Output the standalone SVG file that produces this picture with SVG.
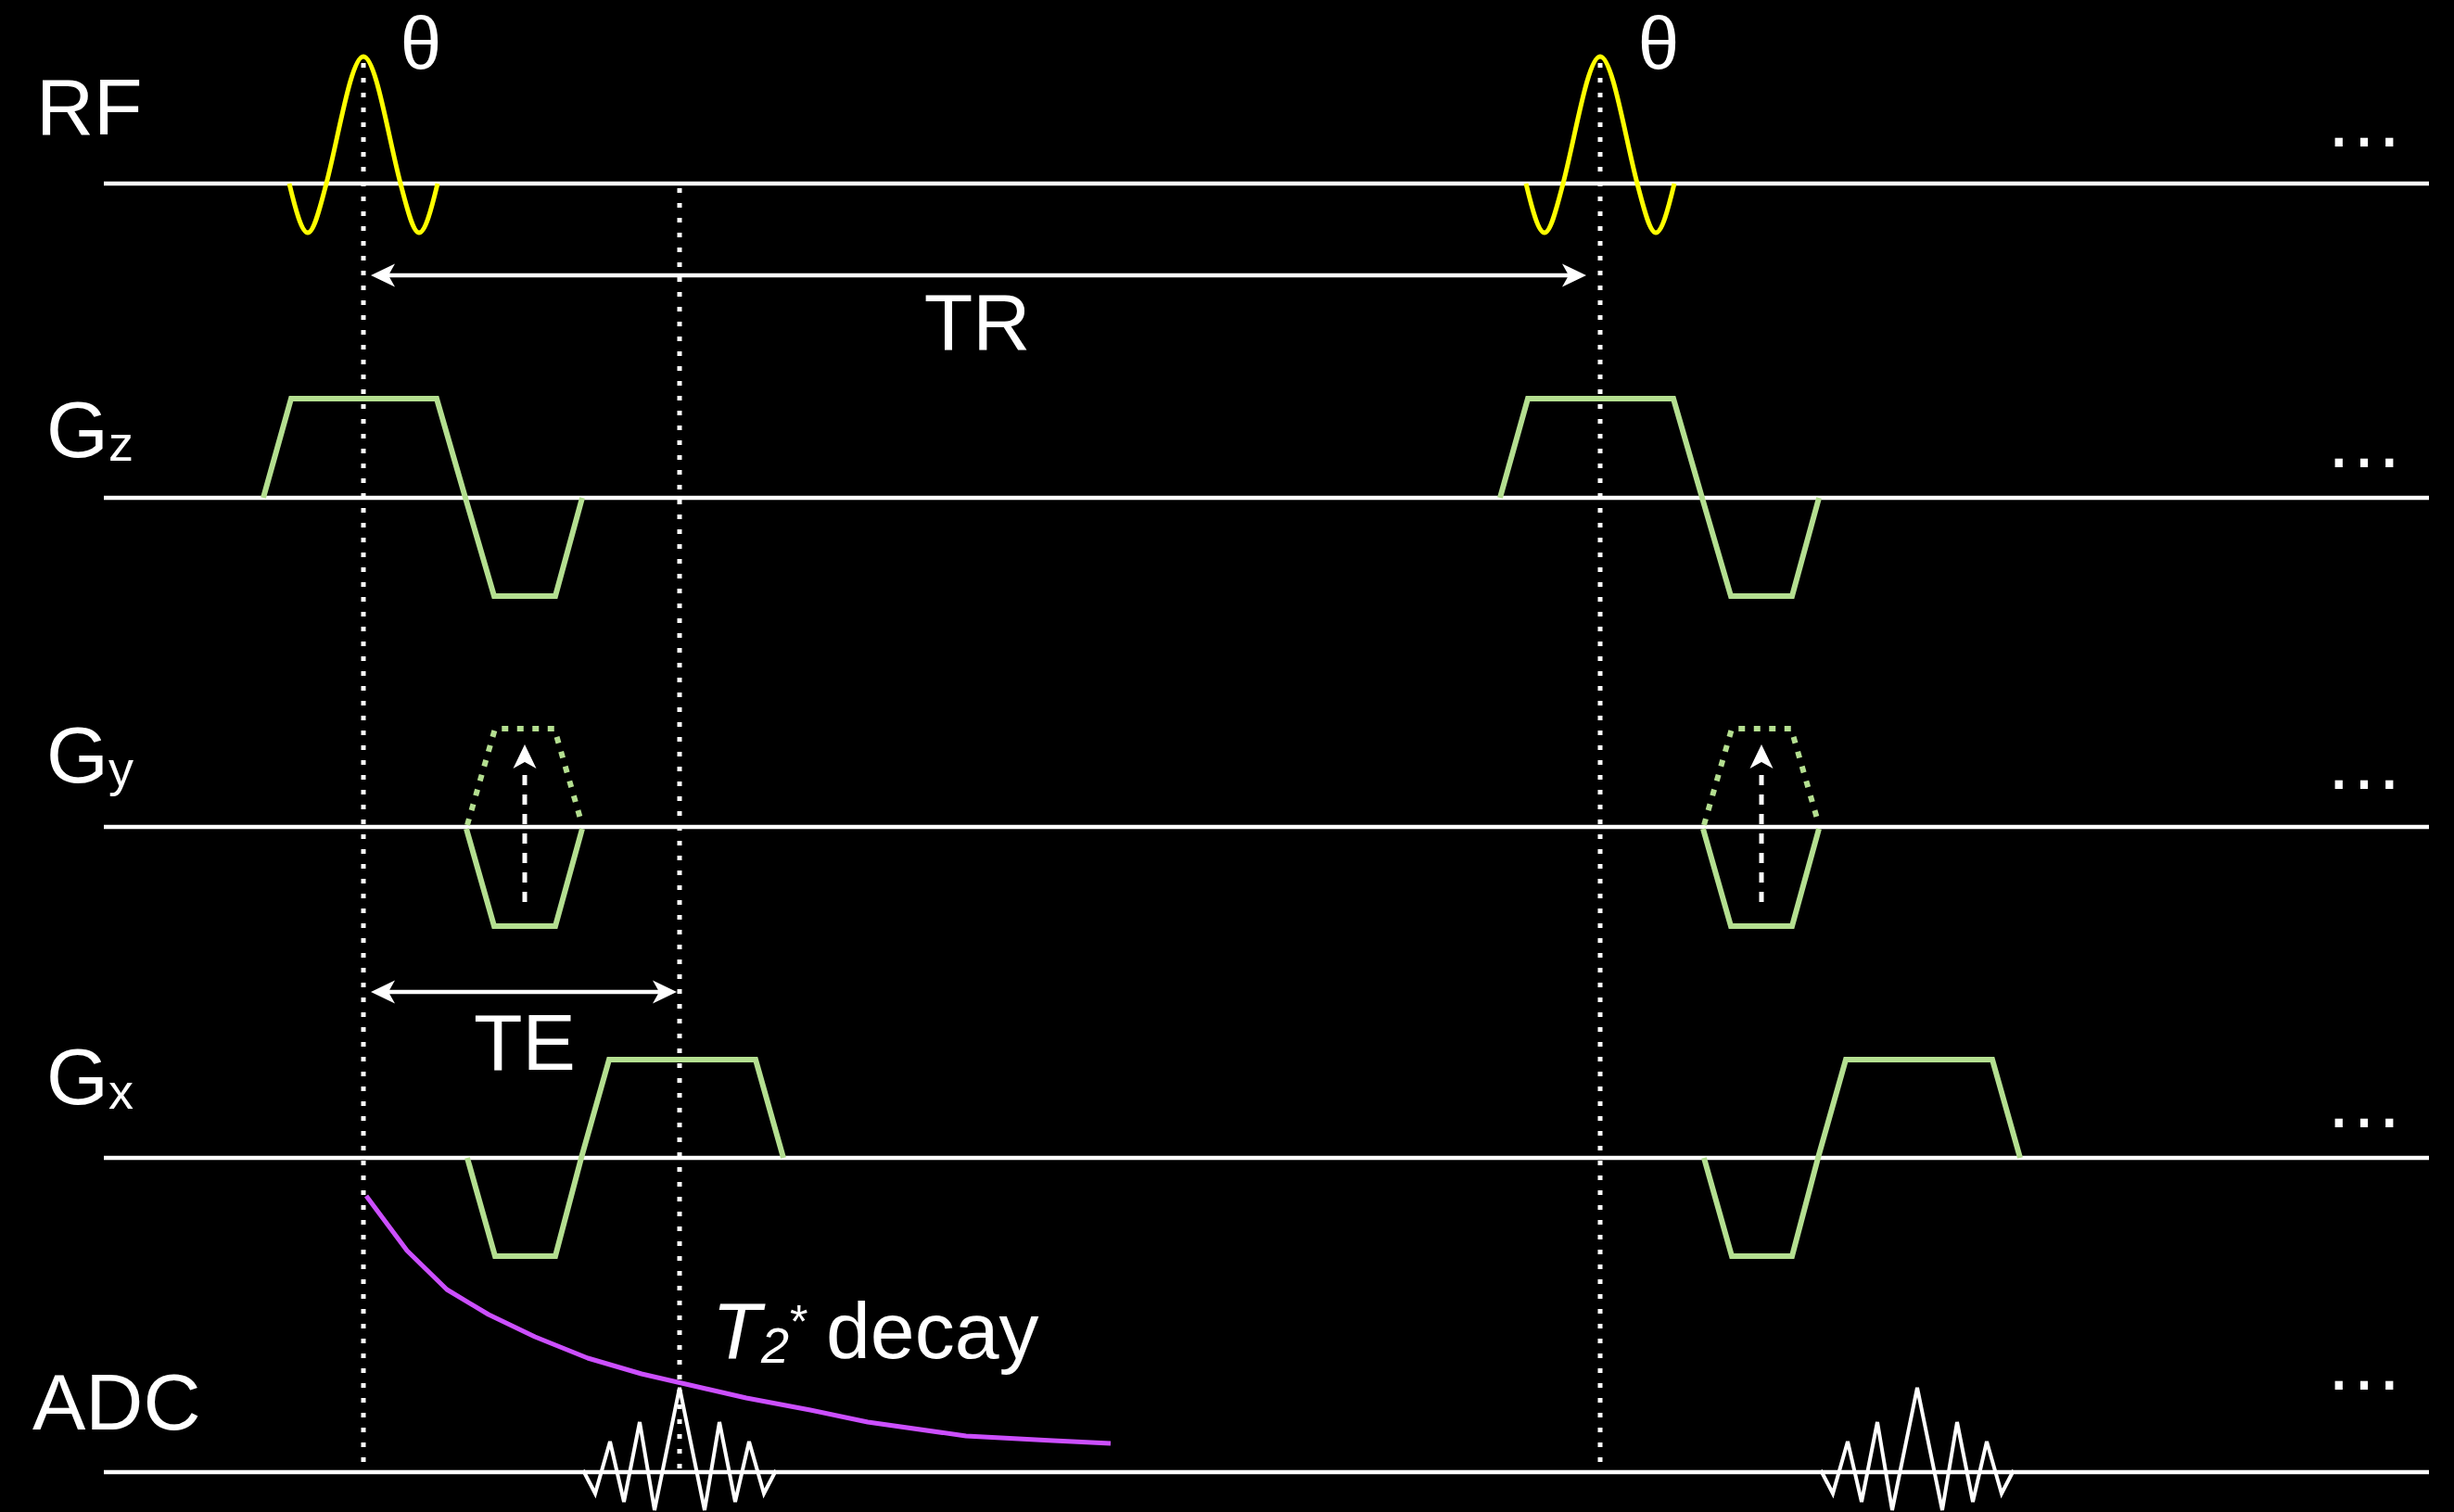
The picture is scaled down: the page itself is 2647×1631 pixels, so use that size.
<svg xmlns="http://www.w3.org/2000/svg" width="2647" height="1631" viewBox="0 0 2647 1631">
<style>
.bg{fill:#000}
.axis{stroke:#fff;stroke-width:4.5;fill:none}
.lbl{fill:#fff;font-family:"Liberation Sans",Arial,sans-serif;font-size:86px}
.sub{font-size:54px}
.theta{font-size:80px;text-anchor:middle}
.rf{stroke:#ffff00;stroke-width:5;fill:none}
.grad{stroke:#b4df90;stroke-width:6;fill:none;stroke-linejoin:miter}
.graddot{stroke:#b4df90;stroke-width:6;fill:none;stroke-dasharray:7 9.5}
.vdot{stroke:#fff;stroke-width:5;fill:none;stroke-dasharray:5 11}
.dim{stroke:#fff;stroke-width:4.5;fill:none}
.pe{stroke:#fff;stroke-width:5;fill:none;stroke-dasharray:11 10}
.sig{stroke:#fff;stroke-width:4;fill:none;stroke-linejoin:miter}
.decay{stroke:#cc4fff;stroke-width:5;fill:none;stroke-linejoin:round}
.dots{fill:#fff;font-family:"Liberation Sans",Arial,sans-serif;font-size:86px;text-anchor:middle}
</style>
<defs>
<marker id="arr" markerUnits="userSpaceOnUse" viewBox="0 -13 26 26" markerWidth="26" markerHeight="26" refX="16" refY="0" orient="auto-start-reverse">
<path d="M26,0 L0,-12.5 L7,0 L0,12.5 Z" fill="#fff"/>
</marker>
<marker id="arrUp" markerUnits="userSpaceOnUse" viewBox="0 -13 26 26" markerWidth="26" markerHeight="26" refX="-7" refY="0" orient="auto">
<path d="M26,0 L0,-12.5 L7,0 L0,12.5 Z" fill="#fff"/>
</marker>
<path id="sinc" d="M-80,0 C-73.33,27.7 -66.67,53 -60,53 C-53.33,53 -46.67,25.3 -40,0 C-26.67,-50.7 -13.33,-137 0,-137 C13.33,-137 26.67,-50.7 40,0 C46.67,25.3 53.33,53 60,53 C66.67,53 73.33,27.7 80,0"/>
</defs>
<rect class="bg" x="0" y="0" width="2647" height="1631"/>

<g id="axes">
<line class="axis" x1="112" y1="198" x2="2620" y2="198"/>
<line class="axis" x1="112" y1="537" x2="2620" y2="537"/>
<line class="axis" x1="112" y1="892" x2="2620" y2="892"/>
<line class="axis" x1="112" y1="1249" x2="2620" y2="1249"/>
<line class="axis" x1="112" y1="1588" x2="2620" y2="1588"/>
</g>

<g id="labels">
<text class="lbl" x="39" y="145">RF</text>
<text class="lbl" x="50" y="493">G<tspan class="sub" dy="4">z</tspan></text>
<text class="lbl" x="50" y="844">G<tspan class="sub" dy="4">y</tspan></text>
<text class="lbl" x="50" y="1191">G<tspan class="sub" dy="5">x</tspan></text>
<text class="lbl" x="35" y="1542">ADC</text>
</g>

<g id="ellipses">
<text class="dots" x="2550" y="158">…</text>
<text class="dots" x="2550" y="504">…</text>
<text class="dots" x="2550" y="851">…</text>
<text class="dots" x="2550" y="1216">…</text>
<text class="dots" x="2550" y="1499">…</text>
</g>

<g id="timing-lines">
<line class="vdot" x1="392" y1="68" x2="392" y2="1588"/>
<line class="vdot" x1="733" y1="203" x2="733" y2="1588"/>
<line class="vdot" x1="1726" y1="68" x2="1726" y2="1588"/>
</g>

<g id="rf-pulse-1">
<use href="#sinc" class="rf" transform="translate(392,198)"/>
<text class="lbl theta" x="454" y="74">θ</text>
</g>
<g id="rf-pulse-2">
<use href="#sinc" class="rf" transform="translate(1726,198)"/>
<text class="lbl theta" x="1789" y="74">θ</text>
</g>

<g id="gz-1">
<polyline class="grad" points="284,537 314,430 471,430 502,537 533,643 599,643 628,537"/>
</g>
<g id="gz-2" transform="translate(1334,0)">
<polyline class="grad" points="284,537 314,430 471,430 502,537 533,643 599,643 628,537"/>
</g>

<g id="gy-1">
<polyline class="graddot" points="504,890 534,786 598,786 628,890"/>
<polyline class="grad" points="503,894 533,999 599,999 628,894"/>
<line class="pe" x1="566" y1="973" x2="566" y2="836" marker-end="url(#arrUp)"/>
</g>
<g id="gy-2" transform="translate(1334,0)">
<polyline class="graddot" points="504,890 534,786 598,786 628,890"/>
<polyline class="grad" points="503,894 533,999 599,999 628,894"/>
<line class="pe" x1="566" y1="973" x2="566" y2="836" marker-end="url(#arrUp)"/>
</g>

<g id="gx-1">
<polyline class="grad" points="504,1249 534,1355 599,1355 627,1249 657,1143 815,1143 845,1249"/>
</g>
<g id="gx-2" transform="translate(1334,0)">
<polyline class="grad" points="504,1249 534,1355 599,1355 627,1249 657,1143 815,1143 845,1249"/>
</g>

<g id="adc-1">
<polyline class="sig" points="629,1586 642,1611 658,1555 673,1620 690,1534 706,1629 733,1497 760,1629 776,1534 793,1620 808,1555 824,1611 837,1586"/>
</g>
<g id="adc-2" transform="translate(1335,0)">
<polyline class="sig" points="629,1586 642,1611 658,1555 673,1620 690,1534 706,1629 733,1497 760,1629 776,1534 793,1620 808,1555 824,1611 837,1586"/>
</g>

<g id="decay">
<polyline class="decay" points="395,1290 439,1349 482,1391 527,1418 577,1442 634,1465 692,1482 805,1508 874,1521 936,1534 1042,1549 1136,1554 1198,1557"/>
<text class="lbl"><tspan x="768" y="1465" font-style="italic">T</tspan><tspan class="sub" x="821" y="1470" font-style="italic">2</tspan><tspan font-size="50" x="852" y="1443">*</tspan><tspan x="891" y="1465">decay</tspan></text>
</g>

<g id="connectors">
<line class="dim" x1="410" y1="297" x2="1701" y2="297" marker-start="url(#arr)" marker-end="url(#arr)"/>
<text class="lbl" x="1054" y="377" text-anchor="middle">TR</text>
<line class="dim" x1="410" y1="1070" x2="720" y2="1070" marker-start="url(#arr)" marker-end="url(#arr)"/>
<text class="lbl" x="566" y="1154" text-anchor="middle">TE</text>
</g>
</svg>
